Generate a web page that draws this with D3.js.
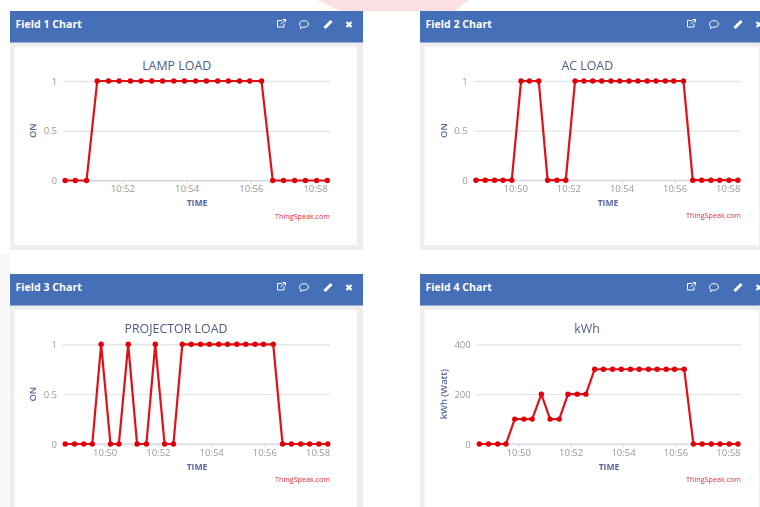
<!DOCTYPE html>
<html>
<head>
<meta charset="utf-8">
<script src="https://cdn.jsdelivr.net/npm/d3@7"></script>
<style>
  html, body { margin: 0; padding: 0; background: #fff; overflow: hidden; }
  svg { display: block; filter: blur(0.6px); }
  text { font-family: "Open Sans", sans-serif; }
  .axis path { display: none; }
</style>
</head>
<body>
<div id="chart"></div>
<script>
// sample times, shared by all four fields
var times = ["10:48:31","10:48:52","10:49:13","10:49:32","10:49:52","10:50:13","10:50:32","10:50:53",
             "10:51:13","10:51:34","10:51:54","10:52:15","10:52:35","10:52:55","10:53:15","10:53:36",
             "10:53:56","10:54:17","10:54:37","10:54:58","10:55:18","10:55:39","10:55:58","10:56:20",
             "10:56:41","10:57:01","10:57:22","10:57:42","10:58:03","10:58:23"];

// field 1 only shows the last 25 samples
var lampLoad = [0,0,0,1,1,1,1,1,1,1,1,1,1,1,1,1,1,1,1,0,0,0,0,0,0];
var acLoad = [0,0,0,0,0,1,1,1,0,0,0,1,1,1,1,1,1,1,1,1,1,1,1,1,0,0,0,0,0,0];
var projectorLoad = [0,0,0,0,1,0,0,1,0,0,1,0,0,1,1,1,1,1,1,1,1,1,1,1,0,0,0,0,0,0];
var kwh = [0,0,0,0,100,100,100,200,100,100,200,200,200,300,300,300,300,300,300,300,300,300,300,300,0,0,0,0,0,0];

var onTicks = [0, 0.5, 1];
var kwhTicks = [0, 200, 400];
var tickTimes = ["10:50:00","10:52:00","10:54:00","10:56:00","10:58:00"];

var parseTime = d3.timeParse("%H:%M:%S");
var formatTick = d3.timeFormat("%H:%M");

var svg = d3.select("#chart").append("svg")
    .attr("width", 760)
    .attr("height", 507);

// faint page decorations behind the cards
svg.append("polygon")
    .attr("points", "317,0 468,0 455,11 340,11")
    .attr("fill", "#fde0e4");
svg.append("rect")
    .attr("x", 0).attr("y", 254).attr("width", 10).attr("height", 253)
    .attr("fill", "#f9f9f9");

var drawIcons = function(g) {
  // open in new window
  var a = g.append("g").attr("transform", "translate(281,-1)")
      .attr("fill", "none").attr("stroke", "#fff").attr("stroke-width", 1);
  a.append("path").attr("d", "M1,-3H-3.5V3.5H3V0");
  a.append("path").attr("d", "M-0.5,0.5L4,-3.5M1.5,-4H4.5V-1");

  // comment bubble
  g.append("path")
      .attr("transform", "translate(304,0)")
      .attr("d", "M-4.5,-0.5C-4.5,-5 4.5,-5 4.5,-0.5C4.5,2.5 0,3 -1.5,2.8L-3.5,4L-3,2C-4,1.5 -4.5,0.5 -4.5,-0.5Z")
      .attr("fill", "none").attr("stroke", "#fff").attr("stroke-width", 1);

  // pencil
  g.append("path")
      .attr("transform", "translate(328,0)")
      .attr("d", "M-3.5,3.5L3.5,-3.5")
      .attr("stroke", "#fff").attr("stroke-width", 3);

  // close
  g.append("path")
      .attr("transform", "translate(349,0)")
      .attr("d", "M-2.5,-2.5L2.5,2.5M-2.5,2.5L2.5,-2.5")
      .attr("stroke", "#fff").attr("stroke-width", 2.2);
};

var drawPanel = function(p) {
  var g = svg.append("g").attr("transform", "translate(" + p.x + "," + p.y + ")");

  // card
  g.append("rect").attr("width", p.w).attr("height", p.h).attr("fill", "#eeeeee");
  g.append("rect").attr("x", 4.5).attr("y", 36).attr("width", p.w - 10.5).attr("height", p.h - 41).attr("fill", "#fff");
  g.append("rect").attr("width", p.w).attr("height", 31.5).attr("fill", "#456fb6");

  g.append("text")
      .attr("x", 5.5).attr("y", 17.3)
      .attr("fill", "#fff")
      .style("font-size", "10.6px").style("font-weight", 700)
      .text(p.name);

  drawIcons(g.append("g").attr("transform", "translate(-10,13.5)"));

  var x = d3.scaleTime()
      .domain([parseTime(p.domain[0]), parseTime(p.domain[1])])
      .range([p.left, p.right]);
  var y = d3.scaleLinear()
      .domain(p.yDomain)
      .range([p.zero, p.top]);

  // grid + y labels
  var yAxis = g.append("g")
      .attr("class", "axis")
      .attr("transform", "translate(" + p.left + ",0)")
      .call(d3.axisLeft(y).tickValues(p.yTicks).tickSize(p.left - p.right).tickPadding(6).tickFormat(d3.format("")));
  yAxis.selectAll("line").attr("stroke", "#e6e6e6").attr("stroke-width", 1.4);
  yAxis.selectAll("text")
      .attr("fill", "#999")
      .style("font-size", "9.5px");

  // x axis
  var xAxis = g.append("g")
      .attr("class", "axis")
      .attr("transform", "translate(0," + p.zero + ")")
      .call(d3.axisBottom(x).tickValues(p.xTicks.map(parseTime)).tickSize(3).tickPadding(2).tickFormat(formatTick));
  xAxis.selectAll("line").attr("stroke", "#ccd6eb");
  xAxis.selectAll("text")
      .attr("fill", "#999")
      .style("font-size", "9.5px");
  g.append("line")
      .attr("x1", p.left).attr("x2", p.right)
      .attr("y1", p.zero).attr("y2", p.zero)
      .attr("stroke", "#ccd6eb");

  var points = p.values.map(function(v, i) {
    return { t: parseTime(p.times[i]), v: v };
  });

  var line = d3.line()
      .x(function(d) { return x(d.t); })
      .y(function(d) { return y(d.v); });

  g.append("path")
      .datum(points)
      .attr("d", line)
      .attr("fill", "none")
      .attr("stroke", "#e01018")
      .attr("stroke-width", 2.2);

  g.selectAll("circle")
      .data(points)
      .enter().append("circle")
      .attr("cx", function(d) { return x(d.t); })
      .attr("cy", function(d) { return y(d.v); })
      .attr("r", 2.7)
      .attr("fill", "#e00008");

  g.append("text")
      .attr("x", p.titleX).attr("y", p.top - 11)
      .attr("text-anchor", "middle")
      .attr("fill", "#4f5b85")
      .style("font-size", "12.4px")
      .text(p.title);

  g.append("text")
      .attr("x", p.timeX).attr("y", p.zero + 25.5)
      .attr("text-anchor", "middle")
      .attr("fill", "#5a689f")
      .style("font-size", "8.6px").style("font-weight", 700)
      .text("TIME");

  g.append("text")
      .attr("transform", "translate(" + p.yTitleX + "," + ((p.top + p.zero) / 2) + ") rotate(-90)")
      .attr("text-anchor", "middle")
      .attr("fill", "#5a689f")
      .style("font-size", "9.4px").style("font-weight", 600)
      .text(p.yTitle);

  g.append("text")
      .attr("x", p.right).attr("y", p.zero + 38)
      .attr("text-anchor", "end")
      .attr("fill", "#e0303a")
      .style("font-size", "7.2px")
      .text("ThingSpeak.com");
};

drawPanel({
  name: "Field 1 Chart", title: "LAMP LOAD", yTitle: "ON",
  x: 10, y: 11, w: 353, h: 239,
  left: 53, right: 320, top: 70, zero: 169.5,
  titleX: 166.7, timeX: 187, yTitleX: 26,
  domain: ["10:50:09", "10:58:28"], yDomain: [0, 1],
  yTicks: onTicks, xTicks: tickTimes.slice(1),
  times: times.slice(5), values: lampLoad
});
drawPanel({
  name: "Field 2 Chart", title: "AC LOAD", yTitle: "ON",
  x: 420, y: 11, w: 345, h: 239,
  left: 53.7, right: 321, top: 70, zero: 169.2,
  titleX: 167.3, timeX: 188, yTitleX: 27,
  domain: ["10:48:26", "10:58:30"], yDomain: [0, 1],
  yTicks: onTicks, xTicks: tickTimes,
  times: times, values: acLoad
});
drawPanel({
  name: "Field 3 Chart", title: "PROJECTOR LOAD", yTitle: "ON",
  x: 10, y: 274, w: 353, h: 240,
  left: 53, right: 320, top: 70.3, zero: 170,
  titleX: 166, timeX: 187, yTitleX: 26,
  domain: ["10:48:26", "10:58:28"], yDomain: [0, 1],
  yTicks: onTicks, xTicks: tickTimes,
  times: times, values: projectorLoad
});
drawPanel({
  name: "Field 4 Chart", title: "kWh", yTitle: "kWh (Watt)",
  x: 420, y: 274, w: 345, h: 240,
  left: 56.7, right: 321, top: 70.3, zero: 170,
  titleX: 167, timeX: 189, yTitleX: 27,
  domain: ["10:48:25", "10:58:30"], yDomain: [0, 400],
  yTicks: kwhTicks, xTicks: tickTimes,
  times: times, values: kwh
});
</script>
</body>
</html>
